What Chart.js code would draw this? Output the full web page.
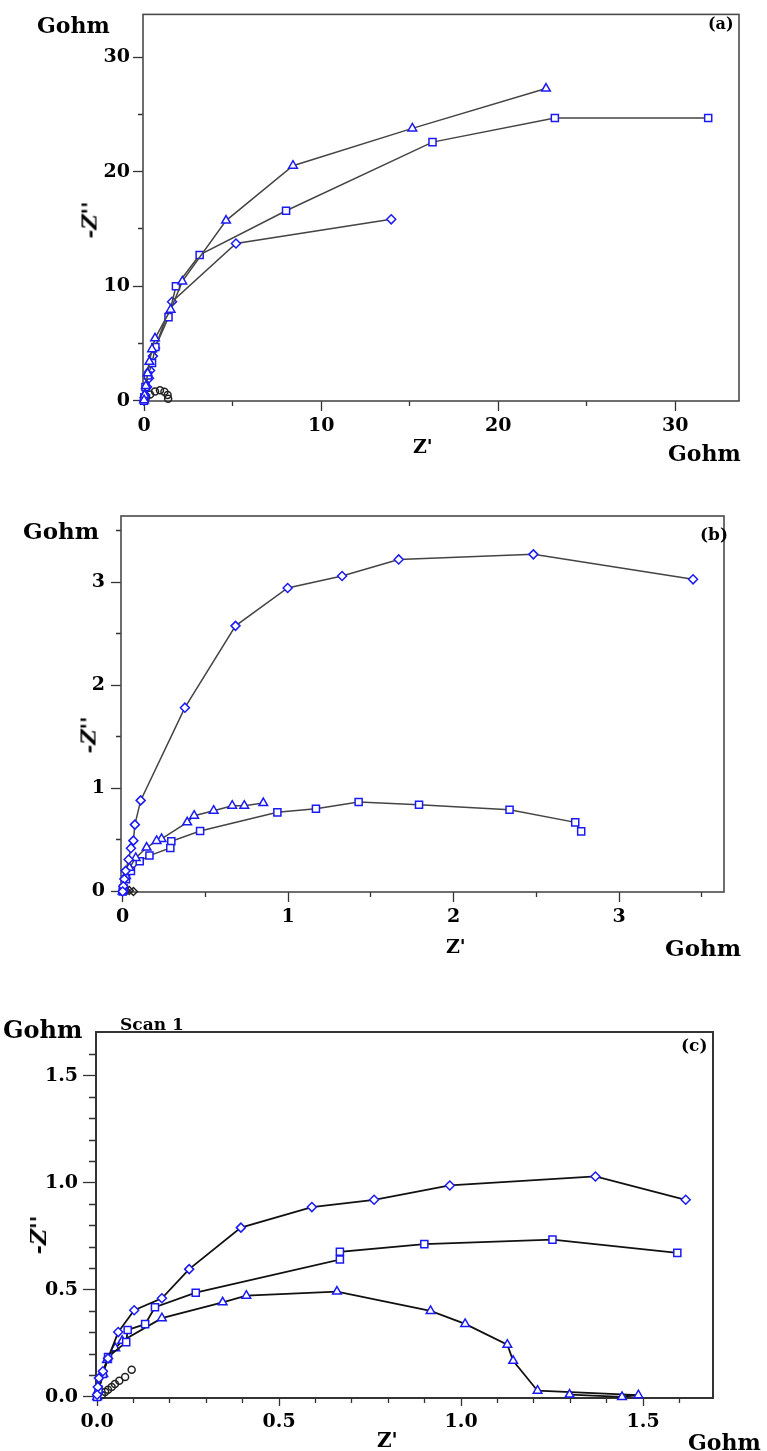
<!DOCTYPE html>
<html>
<head>
<meta charset="utf-8">
<script src="https://cdn.jsdelivr.net/npm/chart.js@4.4.1/dist/chart.umd.min.js"></script>
<style>
  body { margin: 0; background: #fff; }
  #wrap { position: relative; width: 767px; height: 1451px; overflow: hidden; }
  #wrap canvas { position: absolute; left: 0; }
  .lbl { position: absolute; font-family: "DejaVu Serif", serif; font-weight: bold; line-height: 1; white-space: nowrap; color: #000; }
</style>
</head>
<body>
<div id="wrap">
  <canvas id="chartA" width="767" height="475" style="top:0px"></canvas>
  <canvas id="chartB" width="767" height="500" style="top:478px"></canvas>
  <canvas id="chartC" width="767" height="451" style="top:1000px"></canvas>
</div>
<script>
// ---- panel (a) data, Gohm ----
const aTriangle = [[22.7,27.26],[15.15,23.78],[8.41,20.52],[4.63,15.73],[2.16,10.42],[1.5,7.95],[0.62,5.45],[0.45,4.5],[0.3,3.4],[0.2,2.4],[0.1,1.3],[0.03,0.5],[0,0.05]];
const aSquare = [[31.86,24.69],[23.2,24.69],[16.29,22.58],[8.02,16.59],[3.14,12.73],[1.8,10.0],[1.38,7.3],[0.64,4.7],[0.45,3.3],[0.22,2.2],[0.08,1.2],[0.02,0.3],[0,0]];
const aDiamond = [[13.96,15.84],[5.19,13.73],[1.58,8.65],[0.62,4.6],[0.5,3.9],[0.34,2.65],[0.28,1.97],[0.17,1.2],[0.06,0.5],[0,0]];
const aCircle = [[0.02,0.05],[0.12,0.3],[0.34,0.55],[0.62,0.8],[0.9,0.92],[1.15,0.78],[1.33,0.5],[1.36,0.18]];
const aTicks = [0,5,10,15,20,25,30];
const aLabels = [0,10,20,30];

// ---- panel (b) data, Gohm ----
const bDiamond = [[3.447,3.026],[2.482,3.268],[1.668,3.219],[1.326,3.058],[0.997,2.942],[0.682,2.575],[0.376,1.782],[0.109,0.883],[0.074,0.648],[0.065,0.493],[0.05,0.42],[0.036,0.31],[0.018,0.2],[0.01,0.12],[0.004,0.05],[0,0]];
const bSquare = [[2.771,0.583],[2.735,0.67],[2.338,0.793],[1.791,0.841],[1.426,0.867],[1.168,0.802],[0.935,0.767],[0.468,0.587],[0.294,0.487],[0.288,0.422],[0.162,0.348],[0.103,0.293],[0.05,0.2],[0.02,0.12],[0.005,0.03],[0,0]];
const bTriangle = [[0.85,0.857],[0.735,0.832],[0.662,0.832],[0.55,0.783],[0.432,0.735],[0.39,0.67],[0.235,0.51],[0.205,0.49],[0.145,0.426],[0.079,0.325],[0.041,0.229],[0.02,0.15],[0.006,0.035],[0,0]];
const bBlack = [[0.02,0.01],[0.04,0.01],[0.065,0.0]];
const bTicks = [0,0.5,1,1.5,2,2.5,3,3.5];
const bLabels = [0,1,2,3];

// ---- panel (c) data, Gohm ----
const cDiamond = [[1.617,0.921],[1.369,1.03],[0.969,0.988],[0.761,0.921],[0.59,0.887],[0.395,0.791],[0.253,0.597],[0.178,0.461],[0.102,0.405],[0.058,0.303],[0.03,0.18],[0.016,0.12],[0.005,0.088],[0.002,0.046],[0,0.01]];
const cSquare = [[1.594,0.673],[1.251,0.735],[0.899,0.714],[0.667,0.678],[0.667,0.642],[0.271,0.487],[0.159,0.419],[0.132,0.34],[0.084,0.313],[0.08,0.256],[0.03,0.186],[0.016,0.107],[0.004,0.034],[0,0]];
const cTriangle = [[1.298,0.011],[1.442,0.0],[1.487,0.008],[1.21,0.029],[1.143,0.169],[1.127,0.244],[1.011,0.341],[0.916,0.402],[0.659,0.492],[0.41,0.473],[0.345,0.442],[0.178,0.368],[0.069,0.262],[0.05,0.228],[0.027,0.172],[0.017,0.107],[0.004,0.034],[0,0]];
const cCircle = [[0.095,0.127],[0.077,0.093],[0.061,0.076],[0.049,0.06],[0.04,0.046],[0.03,0.034],[0.022,0.023],[0.013,0.009]];
const cTicks = [0,0.1,0.2,0.3,0.4,0.5,0.6,0.7,0.8,0.9,1,1.1,1.2,1.3,1.4,1.5,1.6];
const cLabels = [0,0.5,1,1.5];

const BLUE = "#1a1af2";
const tickFont = { family: "DejaVu Serif", weight: "bold", size: 19 };

// draws the box round the plot area
const framePlugin = {
  id: "frame",
  beforeDatasetsDraw(chart, args, opts) {
    const a = chart.chartArea;
    const ctx = chart.ctx;
    ctx.save();
    ctx.strokeStyle = opts.color;
    ctx.lineWidth = opts.width;
    ctx.strokeRect(a.left, a.top, a.right - a.left, a.bottom - a.top);
    ctx.restore();
  }
};

const toXY = (pts) => pts.map(([x, y]) => ({ x: x, y: y }));

function series(pts, style, radius, lineColor, lineWidth, showLine, markColor, fill) {
  return {
    data: toXY(pts),
    showLine: showLine,
    borderColor: lineColor,
    borderWidth: lineWidth,
    pointStyle: style,
    pointRadius: radius,
    pointBorderWidth: 1.5,
    pointBorderColor: markColor,
    pointBackgroundColor: fill,
    clip: false
  };
}

function makeAxis(cfg, ax) {
  const major = ax.major, minor = ax.minor;
  const isY = ax.id === "y";
  return {
    type: "linear",
    position: isY ? "left" : "bottom",
    min: ax.min,
    max: ax.max,
    afterFit(scale) {
      if (isY) scale.width = cfg.area.left;
      else scale.height = cfg.height - (cfg.area.bottom - cfg.top);
    },
    afterBuildTicks(scale) {
      scale.ticks = ax.ticks.map((v) => ({ value: v }));
    },
    border: { display: false },
    grid: {
      drawOnChartArea: false,
      drawTicks: true,
      tickLength: major,
      tickWidth: 1.3,
      tickColor: "#333",
      // minor ticks are shorter: only part of the tick line is drawn
      tickBorderDash: (ctx) => {
        if (ax.labels.includes(ctx.tick.value)) return [];
        return isY ? [0, major - minor, minor, 100] : [minor, 100];
      }
    },
    ticks: {
      autoSkip: false,
      maxRotation: 0,
      padding: ax.pad,
      color: "#000",
      font: tickFont,
      callback: (v) => (ax.labels.includes(v) ? ax.fmt(v) : "")
    }
  };
}

function makePanel(id, cfg) {
  new Chart(document.getElementById(id), {
    type: "scatter",
    data: { datasets: cfg.datasets },
    options: {
      responsive: false,
      animation: false,
      layout: { padding: { left: 0, top: cfg.area.top - cfg.top, right: 767 - cfg.area.right, bottom: 0 } },
      plugins: { legend: { display: false }, tooltip: { enabled: false }, frame: { color: cfg.frameColor, width: cfg.frameWidth } },
      scales: { x: makeAxis(cfg, cfg.x), y: makeAxis(cfg, cfg.y) }
    },
    plugins: [framePlugin]
  });
}

makePanel("chartA", {
  top: 0, height: 475,
  area: { left: 143, top: 7, right: 739, bottom: 401 },
  frameColor: "#4a4a4a", frameWidth: 1.6,
  x: { id: "x", min: -0.06, max: 33.6, ticks: aTicks, labels: aLabels, major: 10, minor: 5, pad: 4, fmt: (v) => String(v) },
  y: { id: "y", min: -0.02, max: 33.73, ticks: aTicks, labels: aLabels, major: 10, minor: 5, pad: 3, fmt: (v) => String(v) },
  datasets: [
    series(aTriangle, "triangle", 5, "#444", 1.5, true, BLUE, "#fff"),
    series(aSquare, "rect", 5, "#444", 1.5, true, BLUE, "#fff"),
    series(aDiamond, "rectRot", 4.5, "#444", 1.5, true, BLUE, "#fff"),
    series(aCircle, "circle", 3.5, "#222", 1, false, "#222", "rgba(0,0,0,0)")
  ]
});

makePanel("chartB", {
  top: 478, height: 500,
  area: { left: 121, top: 516, right: 724, bottom: 892 },
  frameColor: "#4a4a4a", frameWidth: 1.6,
  x: { id: "x", min: -0.01, max: 3.634, ticks: bTicks, labels: bLabels, major: 10, minor: 5, pad: 4, fmt: (v) => String(v) },
  y: { id: "y", min: -0.005, max: 3.64, ticks: bTicks, labels: bLabels, major: 10, minor: 5, pad: 6, fmt: (v) => String(v) },
  datasets: [
    series(bDiamond, "rectRot", 4.5, "#444", 1.5, true, BLUE, "#fff"),
    series(bTriangle, "triangle", 5, "#444", 1.5, true, BLUE, "#fff"),
    series(bSquare, "rect", 5, "#444", 1.5, true, BLUE, "#fff"),
    series(bBlack, "rectRot", 4, "#222", 1, false, "#222", "rgba(0,0,0,0)")
  ]
});

makePanel("chartC", {
  top: 1000, height: 451,
  area: { left: 96, top: 1032, right: 713, bottom: 1398 },
  frameColor: "#333", frameWidth: 2,
  x: { id: "x", min: -0.003, max: 1.692, ticks: cTicks, labels: cLabels, major: 8, minor: 5, pad: 5, fmt: (v) => v.toFixed(1) },
  y: { id: "y", min: -0.005, max: 1.705, ticks: cTicks, labels: cLabels, major: 13, minor: 7, pad: 5, fmt: (v) => v.toFixed(1) },
  datasets: [
    series(cDiamond, "rectRot", 4.5, "#111", 1.8, true, BLUE, "#fff"),
    series(cSquare, "rect", 5, "#111", 1.8, true, BLUE, "#fff"),
    series(cTriangle, "triangle", 5, "#111", 1.8, true, BLUE, "#fff"),
    series(cCircle, "circle", 3.5, "#222", 1, false, "#222", "rgba(0,0,0,0)")
  ]
});

// ---- text round the panels ----
const wrap = document.getElementById("wrap");

function addLabel(text, left, baseline, size, italic) {
  const d = document.createElement("div");
  d.className = "lbl";
  d.textContent = text;
  d.style.left = left + "px";
  d.style.top = (baseline - 0.846 * size) + "px";
  d.style.fontSize = size + "px";
  if (italic) d.style.fontStyle = "italic";
  wrap.appendChild(d);
}

function addVertical(text, cx, cy, size) {
  const d = document.createElement("div");
  d.className = "lbl";
  d.textContent = text;
  d.style.left = cx + "px";
  d.style.top = cy + "px";
  d.style.fontSize = size + "px";
  d.style.fontStyle = "italic";
  d.style.transform = "translate(-50%,-50%) rotate(-90deg)";
  wrap.appendChild(d);
}

// (a)
addLabel("Gohm", 37, 33, 22);
addLabel("(a)", 708, 30, 16);
addLabel("Z'", 413, 453, 19);
addLabel("Gohm", 668, 461, 22);
addVertical("-Z''", 89, 220, 21);
// (b)
addLabel("Gohm", 23, 538, 23);
addLabel("(b)", 700, 540, 17);
addLabel("Z'", 446, 953, 19);
addLabel("Gohm", 665, 955, 23);
addVertical("-Z''", 88, 735, 21);
// (c)
addLabel("Gohm", 3, 1038, 24);
addLabel("Scan 1", 120, 1030, 17);
addLabel("(c)", 681, 1051, 17);
addLabel("Z'", 377, 1447, 20);
addLabel("Gohm", 688, 1450, 22);
addVertical("-Z''", 38, 1235, 22);
</script>
</body>
</html>
